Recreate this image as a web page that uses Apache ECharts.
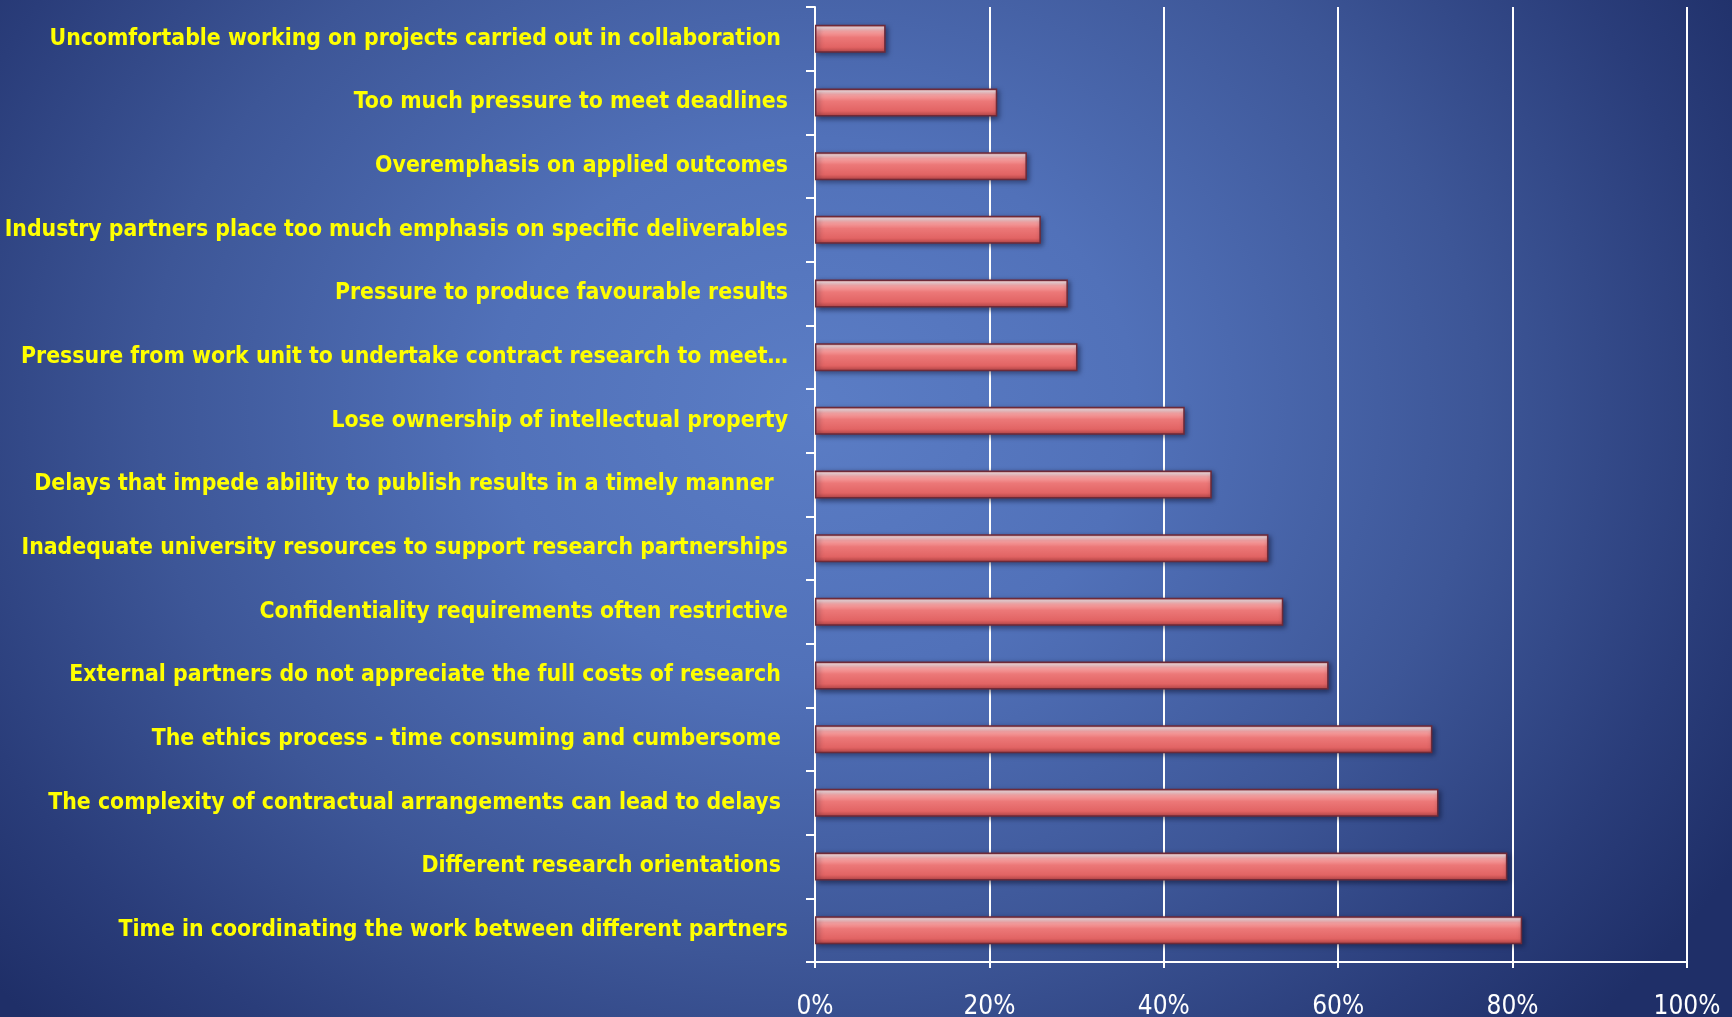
<!DOCTYPE html>
<html>
<head>
<meta charset="utf-8">
<script src="https://cdn.jsdelivr.net/npm/echarts@6/dist/echarts.min.js"></script>
<style>
  html, body { margin: 0; padding: 0; }
  #chart {
    width: 1732px; height: 1017px;
    background:
      radial-gradient(ellipse 62% 88% at 47% 40%, #5b7dc5 0%, #5171b9 30%, #3d5697 62%, #2a3d7a 85%, #1f2f68 100%);
  }
</style>
</head>
<body>
<div id="chart"></div>
<script>
// Reasons reported as barriers to research collaboration (share of respondents, %)
const categories = [
  'Uncomfortable working on projects carried out in collaboration ',
  'Too much pressure to meet deadlines',
  'Overemphasis on applied outcomes',
  'Industry partners place too much emphasis on specific deliverables',
  'Pressure to produce favourable results',
  'Pressure from work unit to undertake contract research to meet\u2026',
  'Lose ownership of intellectual property',
  'Delays that impede ability to publish results in a timely manner  ',
  'Inadequate university resources to support research partnerships',
  'Confidentiality requirements often restrictive',
  'External partners do not appreciate the full costs of research ',
  'The ethics process - time consuming and cumbersome ',
  'The complexity of contractual arrangements can lead to delays ',
  'Different research orientations ',
  'Time in coordinating the work between different partners'
];
const values = [8.1, 20.9, 24.3, 25.9, 29.0, 30.1, 42.4, 45.5, 52.0, 53.7, 58.9, 70.8, 71.5, 79.4, 81.1];
const xTicks = [0, 20, 40, 60, 80, 100];

const LABEL_FONT = '"Liberation Sans Narrow", "Arial Narrow", "DejaVu Sans Condensed", sans-serif';

const chart = echarts.init(document.getElementById('chart'), null, { renderer: 'canvas' });

// glossy cylinder-like fill: thin bright highlight under the top edge, salmon body
const barFill = new echarts.graphic.LinearGradient(0, 0, 0, 1, [
  { offset: 0.00, color: '#d06a6a' },
  { offset: 0.10, color: '#ffe2e2' },
  { offset: 0.22, color: '#f8a6a6' },
  { offset: 0.45, color: '#ec7878' },
  { offset: 0.80, color: '#e26464' },
  { offset: 1.00, color: '#b94646' }
]);

chart.setOption({
  backgroundColor: 'transparent',
  animation: false,
  grid: {
    left: 815, right: 45, top: 7, bottom: 55,
    containLabel: false,
    outerBoundsMode: 'none'
  },
  xAxis: {
    type: 'value',
    min: xTicks[0],
    max: xTicks[xTicks.length - 1],
    interval: 20,
    axisLine: { show: true, lineStyle: { color: '#ffffff', width: 2 } },
    axisTick: { show: true, length: 6, lineStyle: { color: '#ffffff', width: 2 } },
    splitLine: { show: true, lineStyle: { color: '#ffffff', width: 2 } },
    axisLabel: {
      color: '#ffffff',
      fontFamily: LABEL_FONT,
      fontSize: 26,
      margin: 32,
      formatter: '{value}%'
    }
  },
  yAxis: {
    type: 'category',
    inverse: true,
    data: categories,
    axisLine: { show: true, lineStyle: { color: '#ffffff', width: 2 } },
    axisTick: { show: true, length: 9, lineStyle: { color: '#ffffff', width: 2 } },
    axisLabel: {
      color: '#ffff00',
      fontFamily: LABEL_FONT,
      fontWeight: 'bold',
      fontSize: 22.8,
      margin: 27
    }
  },
  series: [{
    type: 'bar',
    data: values,
    barWidth: 28,
    itemStyle: {
      color: barFill,
      borderColor: '#6e2a38',
      borderWidth: 1.5,
      shadowColor: 'rgba(10, 15, 40, 0.55)',
      shadowBlur: 5,
      shadowOffsetX: 2,
      shadowOffsetY: 2
    }
  }]
});
</script>
</body>
</html>
